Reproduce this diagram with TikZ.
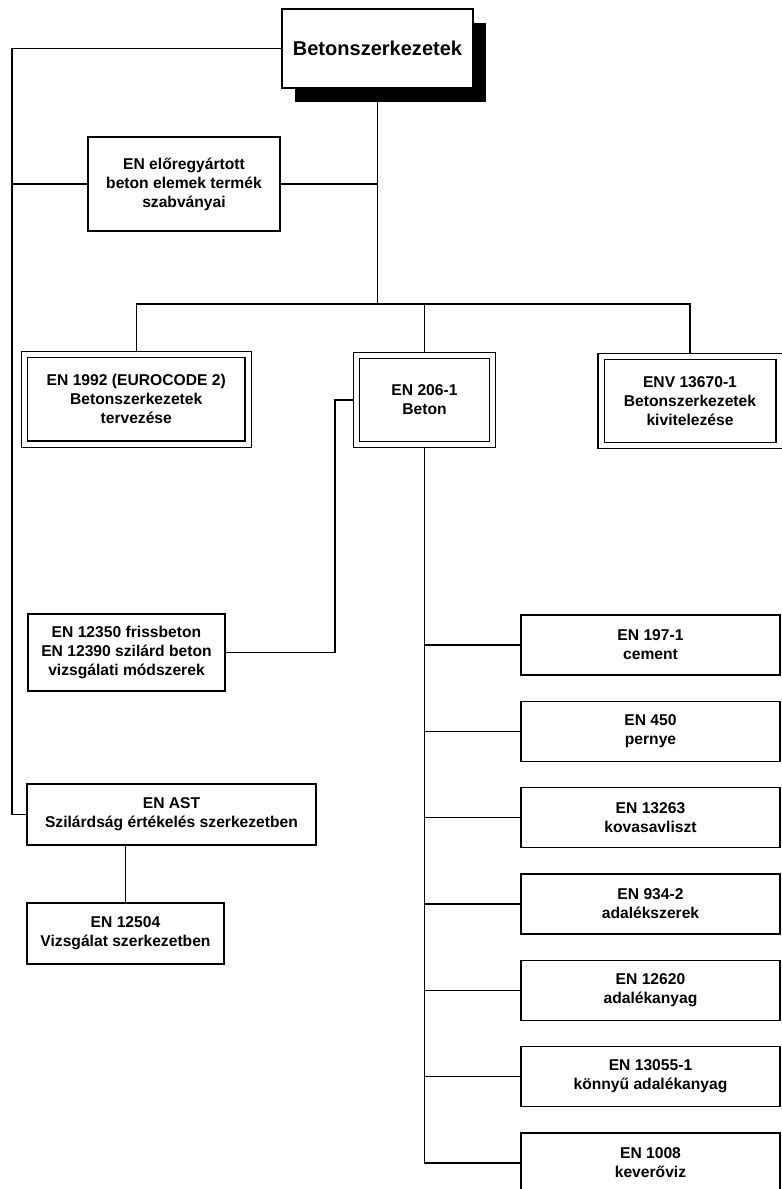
\documentclass[tikz,border=0pt]{standalone}
\usepackage{fontspec}
\setmainfont{Liberation Sans}
\usetikzlibrary{shadows}
\tikzset{
  box/.style={
    draw=black,
    line width=0.6pt,
    fill=white,
    align=center,
    inner sep=0pt,
    font=\bfseries\fontsize{8.9}{10.8}\selectfont
  },
  box-plain/.style={box},
  box-double/.style={
    box,
    double=white,
    double distance=0.1cm,
    outer sep=0.07cm
  },
  box-title/.style={
    box,
    font=\bfseries\fontsize{11.4}{13}\selectfont,
    drop shadow={shadow xshift=0.25cm, shadow yshift=-0.27cm, fill=black, opacity=1}
  },
  link/.style={line width=0.6pt}
}

\begin{document}
\begin{tikzpicture}[x=0.2mm, y=-0.2mm]
  \useasboundingbox (0,0) rectangle (782,1189);

  % top of the tree
  \node[box-title, minimum width=3.82cm, minimum height=1.58cm] (title) at (377.5,48.5) {Betonszerkezetek};
  \node[box-plain, minimum width=3.84cm, minimum height=1.88cm] (prefab) at (184,184)
    {EN előregyártott\\beton elemek termék\\szabványai};

  % the three main standards
  \node[box-double, minimum width=4.47cm, minimum height=1.79cm] (ec2) at (136.25,399.25)
    {EN 1992 (EUROCODE 2)\\Betonszerkezetek\\tervezése};
  \node[box-double, minimum width=2.72cm, minimum height=1.77cm] (beton) at (424.5,400)
    {EN 206-1\\Beton};
  \node[box-double, minimum width=3.56cm, minimum height=1.78cm] (env) at (690,401)
    {ENV 13670-1\\Betonszerkezetek\\kivitelezése};

  % left column
  \node[box-plain, minimum width=3.94cm, minimum height=1.54cm] (tests) at (126.5,652.5)
    {EN 12350 frissbeton\\EN 12390 szilárd beton\\vizsgálati módszerek};
  \node[box-plain, minimum width=5.78cm, minimum height=1.22cm] (ast) at (171.5,814.5)
    {EN AST\\Szilárdság értékelés szerkezetben};
  \node[box-plain, minimum width=3.94cm, minimum height=1.22cm] (insitu) at (125.5,933.5)
    {EN 12504\\Vizsgálat szerkezetben};

  % constituent materials
  \foreach \code/\label [count=\i from 0] in {EN 197-1/cement, EN 450/pernye,
      EN 13263/kovasavliszt, EN 934-2/adalékszerek, EN 12620/adalékanyag,
      EN 13055-1/könnyű adalékanyag, EN 1008/keverőviz}{
    \node[box-plain, minimum width=5.18cm, minimum height=1.2cm] (mat-\i)
      at (650.5,{645+86.33*\i}) {\code\\\label};
  }

  % connectors
  \coordinate (left-bend) at (12,0);
  \coordinate (bus) at (0,304);
  \coordinate (tests-bend) at (335,0);

  \draw[link] (title.west) -| (left-bend |- ast.west) -- (ast.west);
  \draw[link] (prefab.west) -- (prefab.west -| left-bend);
  \draw[link] (prefab.east) -- (prefab.east -| title.south);
  \draw[link] (title.south) -- (title.south |- bus);
  \draw[link] (ec2.north) -- (ec2.north |- bus) -- (env.north |- bus) -- (env.north);
  \draw[link] (beton.north) -- (beton.north |- bus);
  \draw[link] (beton.west) -| (tests-bend |- tests.east) -- (tests.east);
  \draw[link] (insitu.north) -- (insitu.north |- ast.south);

  \draw[link] (beton.south) |- (mat-6.west);
  \foreach \i in {0,...,5}{
    \draw[link] (mat-\i.west) -- (mat-\i.west -| beton.south);
  }
\end{tikzpicture}
\end{document}
